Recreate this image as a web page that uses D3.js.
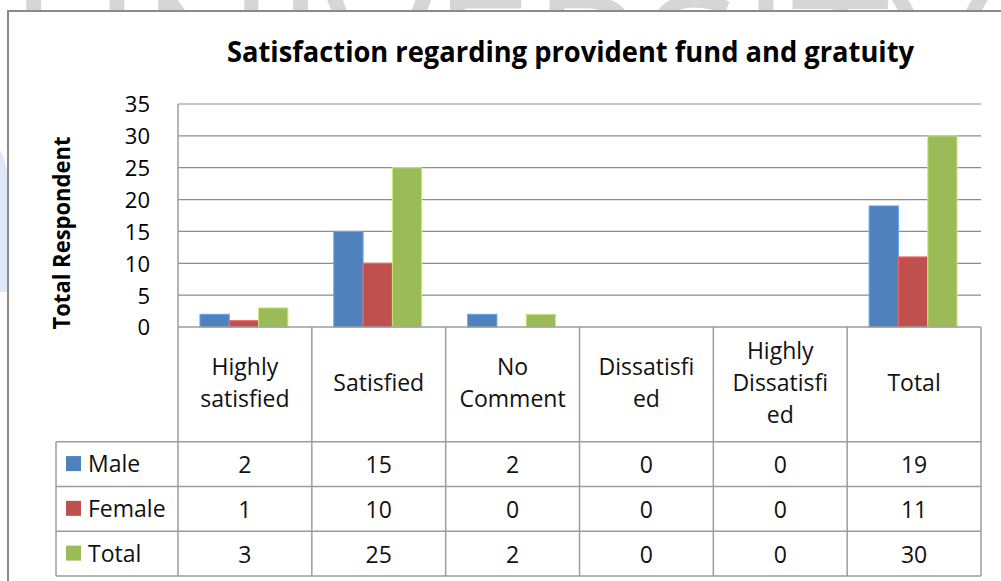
<!DOCTYPE html>
<html>
<head>
<meta charset="utf-8">
<script src="https://cdn.jsdelivr.net/npm/d3@7"></script>
<style>
  body { margin: 0; background: #fff; }
  svg { display: block; font-family: "Open Sans", sans-serif; }
</style>
</head>
<body>
<div id="chart"></div>
<script>
// data
const categories = ["Highly satisfied", "Satisfied", "No Comment", "Dissatisfied", "Highly Dissatisfied", "Total"];
const categoryLines = [["Highly", "satisfied"], ["Satisfied"], ["No", "Comment"], ["Dissatisfi", "ed"], ["Highly", "Dissatisfi", "ed"], ["Total"]];
const seriesNames = ["Male", "Female", "Total"];
const male = [2, 15, 2, 0, 0, 19];
const female = [1, 10, 0, 0, 0, 11];
const total = [3, 25, 2, 0, 0, 30];
const yTicks = [0, 5, 10, 15, 20, 25, 30, 35];

const seriesValues = { Male: male, Female: female, Total: total };
const color = d3.scaleOrdinal()
  .domain(seriesNames)
  .range(["#4F81BD", "#C0504D", "#9BBB59"]);

const width = 1001, height = 581;
const plotLeft = 178, plotRight = 981, plotTop = 104, plotBottom = 327;
const tableTop = 441.7, tableBottom = 576, legendLeft = 56;

const svg = d3.select("#chart").append("svg")
  .attr("width", width)
  .attr("height", height);

// faint watermark peeking above the chart frame
svg.append("clipPath")
  .attr("id", "wm-clip")
  .append("rect")
  .attr("x", 0).attr("y", 0)
  .attr("width", width).attr("height", 11);

svg.append("text")
  .attr("clip-path", "url(#wm-clip)")
  .attr("x", 10)
  .attr("y", 118)
  .attr("textLength", 980)
  .attr("lengthAdjust", "spacingAndGlyphs")
  .style("font-size", "170px")
  .style("fill", "#d6d6d6")
  .text("UNIVERSITY");

svg.append("path")
  .attr("d", "M0,150 L4,158 L8,175 L8,292 L0,292 Z")
  .attr("fill", "#dde8f9");

// chart frame
svg.append("rect")
  .attr("x", 8)
  .attr("y", 11)
  .attr("width", 1100)
  .attr("height", 700)
  .attr("fill", "#fff")
  .attr("stroke", "#8a8a8a")
  .attr("stroke-width", 2);

const x = d3.scaleBand()
  .domain(categories)
  .range([plotLeft, plotRight]);

const xs = d3.scaleBand()
  .domain(seriesNames)
  .range([x.bandwidth() * 0.164, x.bandwidth() * 0.821]);

const y = d3.scaleLinear()
  .domain([0, 35])
  .range([plotBottom, plotTop]);

const rowY = d3.scaleBand()
  .domain(seriesNames)
  .range([tableTop, tableBottom]);

// gridlines
svg.append("g")
  .selectAll("line")
  .data(yTicks.filter(d => d > 0))
  .join("line")
  .attr("x1", plotLeft)
  .attr("x2", plotRight)
  .attr("y1", d => y(d))
  .attr("y2", d => y(d))
  .attr("stroke", "#8c8c8c")
  .attr("stroke-width", 1.2);

// y axis labels
const yAxis = svg.append("g")
  .attr("transform", `translate(${plotLeft},0)`)
  .call(d3.axisLeft(y).tickValues(yTicks).tickSize(0).tickPadding(28));
yAxis.select(".domain").remove();
yAxis.selectAll("text")
  .attr("dy", "0.36em")
  .style("font-family", "'Open Sans', sans-serif")
  .style("font-size", "22px")
  .style("fill", "#000");

// bars
const groups = svg.append("g")
  .selectAll("g")
  .data(categories)
  .join("g")
  .attr("transform", d => `translate(${x(d)},0)`);

groups.selectAll("rect")
  .data((d, i) => seriesNames.map(s => ({ key: s, value: seriesValues[s][i] })))
  .join("rect")
  .filter(d => d.value > 0)
  .attr("x", d => xs(d.key))
  .attr("width", xs.bandwidth())
  .attr("y", d => y(d.value))
  .attr("height", d => y(0) - y(d.value))
  .attr("fill", d => color(d.key))
  .attr("stroke", d => d3.color(color(d.key)).brighter(0.7))
  .attr("stroke-width", 1);

// table grid
const border = "#9c9c9c";
const lines = svg.append("g")
  .attr("stroke", border)
  .attr("stroke-width", 1.5);

lines.append("line")
  .attr("x1", plotLeft).attr("x2", plotRight)
  .attr("y1", plotBottom).attr("y2", plotBottom);

[tableTop, ...seriesNames.map(s => rowY(s) + rowY.bandwidth())].forEach(v => {
  lines.append("line")
    .attr("x1", legendLeft).attr("x2", plotRight)
    .attr("y1", v).attr("y2", v);
});

lines.append("line")
  .attr("x1", plotLeft).attr("x2", plotLeft)
  .attr("y1", plotTop).attr("y2", tableBottom);

[...categories.slice(1).map(c => x(c)), plotRight].forEach(v => {
  lines.append("line")
    .attr("x1", v).attr("x2", v)
    .attr("y1", plotBottom).attr("y2", tableBottom);
});

lines.append("line")
  .attr("x1", legendLeft).attr("x2", legendLeft)
  .attr("y1", tableTop).attr("y2", tableBottom);

// category header cells
const headerMid = 391;
svg.append("g")
  .selectAll("text")
  .data(categories)
  .join("text")
  .attr("text-anchor", "middle")
  .style("font-size", "23px")
  .style("fill", "#111")
  .each(function (d, i) {
    const ls = categoryLines[i];
    d3.select(this).selectAll("tspan")
      .data(ls)
      .join("tspan")
      .attr("x", x(d) + x.bandwidth() / 2)
      .attr("y", (t, j) => headerMid + (j - (ls.length - 1) / 2) * 32)
      .text(t => t);
  });

// legend cells
const legendRows = svg.append("g")
  .selectAll("g")
  .data(seriesNames)
  .join("g")
  .attr("transform", d => `translate(0,${rowY(d) + rowY.bandwidth() / 2})`);

legendRows.append("rect")
  .attr("x", 66)
  .attr("y", -8)
  .attr("width", 15)
  .attr("height", 15)
  .attr("fill", d => color(d));

legendRows.append("text")
  .attr("x", 88)
  .attr("y", 8)
  .style("font-size", "23px")
  .style("fill", "#111")
  .text(d => d);

// value cells
legendRows.selectAll("text.val")
  .data(s => seriesValues[s].map((v, i) => ({ v, c: categories[i] })))
  .join("text")
  .attr("class", "val")
  .attr("x", d => x(d.c) + x.bandwidth() / 2)
  .attr("y", 9)
  .attr("text-anchor", "middle")
  .style("font-size", "23px")
  .style("fill", "#111")
  .text(d => d.v);

// title
svg.append("text")
  .attr("x", 227)
  .attr("y", 62)
  .attr("textLength", 687)
  .attr("lengthAdjust", "spacingAndGlyphs")
  .style("font-size", "28px")
  .style("font-weight", "bold")
  .style("fill", "#000")
  .text("Satisfaction regarding provident fund and gratuity");

// y axis title
svg.append("text")
  .attr("transform", "translate(70,233) rotate(-90)")
  .attr("text-anchor", "middle")
  .attr("textLength", 193)
  .attr("lengthAdjust", "spacingAndGlyphs")
  .style("font-size", "23px")
  .style("font-weight", "bold")
  .style("fill", "#000")
  .text("Total Respondent");
</script>
</body>
</html>
